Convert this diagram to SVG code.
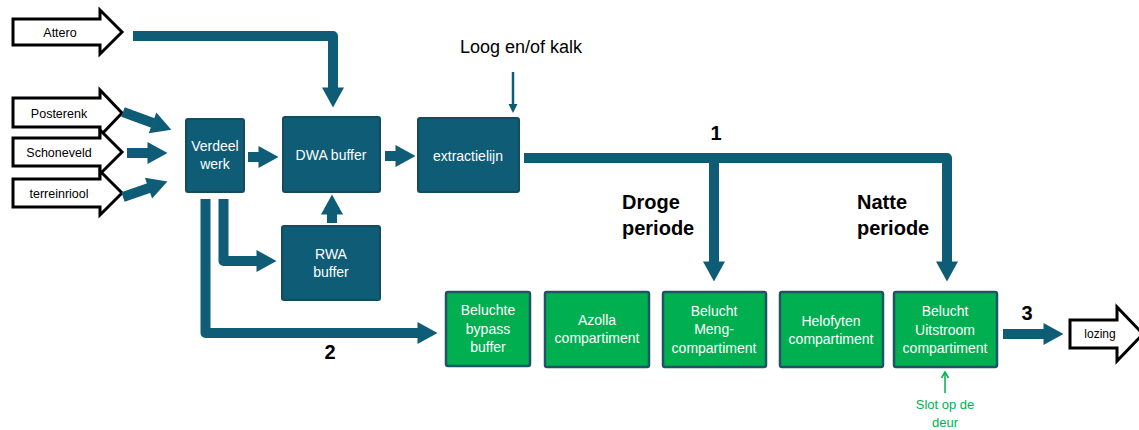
<svg xmlns="http://www.w3.org/2000/svg" width="1139" height="430" viewBox="0 0 1139 430">
<style>
.in{fill:#fff;stroke:#000;stroke-width:3;stroke-linejoin:miter}
.tin{font-family:"Liberation Sans",Arial,sans-serif;font-size:12.5px;fill:#000;text-anchor:middle}
.bx{fill:#0E5C75;stroke:#174A5C;stroke-width:2}
.gx{fill:#00B050;stroke:#1D5566;stroke-width:2.5}
.tb{font-family:"Liberation Sans",Arial,sans-serif;font-size:14px;fill:#fff;text-anchor:middle}
.con{fill:none;stroke:#0E5C75;stroke-width:10;stroke-linejoin:round}
.lab{font-family:"Liberation Sans",Arial,sans-serif;font-size:20px;font-weight:bold;fill:#000}
</style>
<defs>
<marker id="ah" markerUnits="userSpaceOnUse" markerWidth="21" markerHeight="22" refX="0.5" refY="11" orient="auto" overflow="visible">
<path d="M0,0 L20,11 L0,22 Z" fill="#0E5C75"/>
</marker>
</defs>

<g id="in-attero">
<path class="in" d="M13,19 H100 V10 L122,32 L100,54 V45 H13 Z"/>
<text class="tin" x="60" y="37">Attero</text>
</g>
<g id="in-posterenk">
<path class="in" d="M13,98 H100 V90 L122,113 L100,136 V127 H13 Z"/>
<text class="tin" x="59" y="118">Posterenk</text>
</g>
<g id="in-schoneveld">
<path class="in" d="M13,138 H100 V130 L122,152 L100,174 V166 H13 Z"/>
<text class="tin" x="59" y="157">Schoneveld</text>
</g>
<g id="in-terreinriool">
<path class="in" d="M13,179 H100 V171 L122,193 L100,215 V207 H13 Z"/>
<text class="tin" x="59" y="198">terreinriool</text>
</g>

<g id="verdeelwerk">
<rect class="bx" x="186" y="119" width="58" height="73" rx="2"/>
<text class="tb" x="215" y="151">Verdeel</text>
<text class="tb" x="215" y="169">werk</text>
</g>
<g id="dwa">
<rect class="bx" x="283" y="117" width="97" height="75" rx="2"/>
<text class="tb" x="331" y="160">DWA buffer</text>
</g>
<g id="extractielijn">
<rect class="bx" x="418" y="118" width="101" height="74" rx="2"/>
<text class="tb" x="468" y="161">extractielijn</text>
</g>
<g id="rwa">
<rect class="bx" x="282" y="226" width="98" height="74" rx="2"/>
<text class="tb" x="331" y="259">RWA</text>
<text class="tb" x="331" y="277">buffer</text>
</g>

<g id="bypass">
<rect class="gx" x="446" y="292" width="84" height="74" rx="2"/>
<text class="tb" x="488" y="315">Beluchte</text>
<text class="tb" x="488" y="334">bypass</text>
<text class="tb" x="488" y="352">buffer</text>
</g>
<g id="azolla">
<rect class="gx" x="545" y="292" width="104" height="75" rx="2"/>
<text class="tb" x="597" y="325">Azolla</text>
<text class="tb" x="597" y="343">compartiment</text>
</g>
<g id="meng">
<rect class="gx" x="663" y="292" width="103" height="75" rx="2"/>
<text class="tb" x="714" y="316">Belucht</text>
<text class="tb" x="714" y="334">Meng-</text>
<text class="tb" x="714" y="353">compartiment</text>
</g>
<g id="helofyten">
<rect class="gx" x="780" y="292" width="103" height="75" rx="2"/>
<text class="tb" x="831" y="326">Helofyten</text>
<text class="tb" x="831" y="344">compartiment</text>
</g>
<g id="uitstroom">
<rect class="gx" x="894" y="292" width="103" height="75" rx="2"/>
<text class="tb" x="945" y="316">Belucht</text>
<text class="tb" x="945" y="335">Uitstroom</text>
<text class="tb" x="945" y="353">compartiment</text>
</g>

<g id="lozing">
<path class="in" d="M1070,320 H1117 V307 L1143,334 L1117,361 V348 H1070 Z"/>
<text class="tin" x="1100" y="338" style="font-size:12px">lozing</text>
</g>

<g id="connectors">
<path class="con" d="M133,36 H333 V88" marker-end="url(#ah)"/>
<path class="con" d="M123,112 L153,123" marker-end="url(#ah)"/>
<path class="con" d="M127,153 H148" marker-end="url(#ah)"/>
<path class="con" d="M123,197 L149,188" marker-end="url(#ah)"/>
<path class="con" d="M248,157 H259" marker-end="url(#ah)"/>
<path class="con" d="M385,156 H396" marker-end="url(#ah)"/>
<path class="con" d="M332,223 V214" marker-end="url(#ah)"/>
<path class="con" d="M223.5,199 V261 H257" marker-end="url(#ah)"/>
<path class="con" d="M205.5,199 V333 H418" marker-end="url(#ah)"/>
<path class="con" d="M524,158 H947 V262" marker-end="url(#ah)"/>
<path class="con" d="M714,158 V262" marker-end="url(#ah)"/>
<path class="con" d="M1003,334 H1044" marker-end="url(#ah)"/>
<line x1="513" y1="72" x2="513" y2="105" stroke="#0E5C75" stroke-width="2.5"/>
<polygon points="508.5,104 517.5,104 513,113" fill="#0E5C75"/>
<line x1="945" y1="393" x2="945" y2="373" stroke="#00B050" stroke-width="1.5"/>
<polyline points="941.5,378 945,372 948.5,378" fill="none" stroke="#00B050" stroke-width="1.5"/>
</g>

<g id="labels">
<text x="521" y="53" style="font-family:'Liberation Sans',Arial,sans-serif;font-size:18px;fill:#000;text-anchor:middle">Loog en/of kalk</text>
<text class="lab" x="716" y="140" text-anchor="middle">1</text>
<text class="lab" x="330" y="359" text-anchor="middle">2</text>
<text class="lab" x="1027" y="320" text-anchor="middle">3</text>
<text class="lab" x="622" y="209">Droge</text>
<text class="lab" x="622" y="235">periode</text>
<text class="lab" x="857" y="209">Natte</text>
<text class="lab" x="857" y="235">periode</text>
<text x="945" y="409" style="font-family:'Liberation Sans',Arial,sans-serif;font-size:13px;fill:#00B050;text-anchor:middle">Slot op de</text>
<text x="945" y="427" style="font-family:'Liberation Sans',Arial,sans-serif;font-size:13px;fill:#00B050;text-anchor:middle">deur</text>
</g>
</svg>
